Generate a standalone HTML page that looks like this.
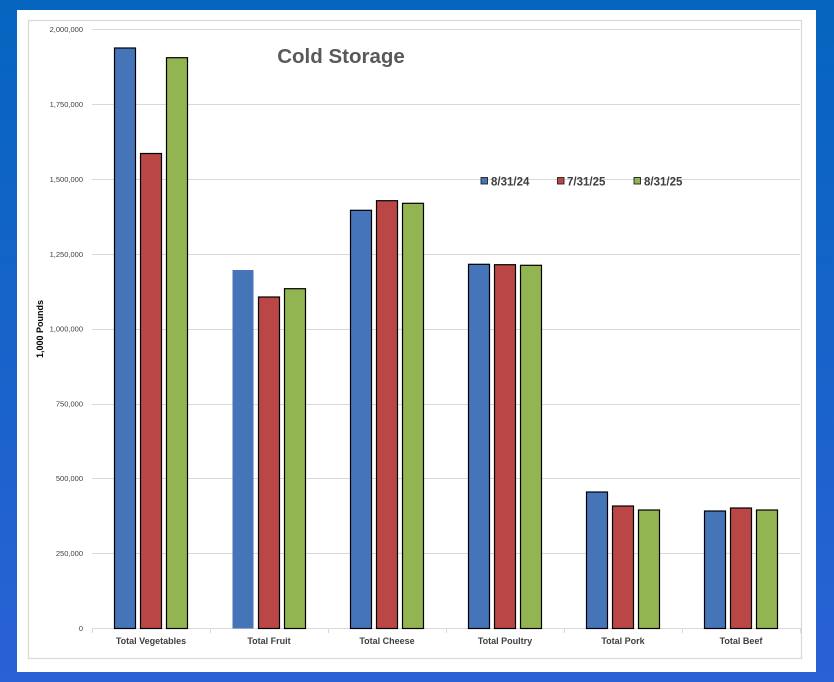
<!DOCTYPE html>
<html><head><meta charset="utf-8"><style>
html,body{margin:0;padding:0;}
body{width:834px;height:682px;overflow:hidden;background:linear-gradient(180deg,#0565bf 0%,#1763ca 50%,#2a61d5 100%);}
svg{position:absolute;left:0;top:0;}
text{font-family:"Liberation Sans",Arial,sans-serif;}
</style></head><body>
<svg width="834" height="682" viewBox="0 0 834 682" xmlns="http://www.w3.org/2000/svg">
<rect x="17" y="10" width="799" height="662" fill="#ffffff"/>
<rect x="28.5" y="20.5" width="773" height="638" fill="#ffffff" stroke="#d9d9d9" stroke-width="1.3"/>
<g stroke="#d9d9d9" stroke-width="1">
<line x1="92" y1="29.5" x2="800" y2="29.5"/>
<line x1="92" y1="104.5" x2="800" y2="104.5"/>
<line x1="92" y1="179.5" x2="800" y2="179.5"/>
<line x1="92" y1="254.5" x2="800" y2="254.5"/>
<line x1="92" y1="329.5" x2="800" y2="329.5"/>
<line x1="92" y1="404.5" x2="800" y2="404.5"/>
<line x1="92" y1="478.5" x2="800" y2="478.5"/>
<line x1="92" y1="553.5" x2="800" y2="553.5"/>
<line x1="92" y1="628.5" x2="800" y2="628.5"/>
<line x1="92.5" y1="628" x2="92.5" y2="633"/>
<line x1="210.5" y1="628" x2="210.5" y2="633"/>
<line x1="328.5" y1="628" x2="328.5" y2="633"/>
<line x1="446.5" y1="628" x2="446.5" y2="633"/>
<line x1="564.5" y1="628" x2="564.5" y2="633"/>
<line x1="682.5" y1="628" x2="682.5" y2="633"/>
<line x1="800.5" y1="628" x2="800.5" y2="633"/>
</g>
<g font-size="7.5" fill="#404040" text-anchor="end">
<text x="83" y="32">2,000,000</text>
<text x="83" y="107">1,750,000</text>
<text x="83" y="182">1,500,000</text>
<text x="83" y="257">1,250,000</text>
<text x="83" y="331.5">1,000,000</text>
<text x="83" y="406.5">750,000</text>
<text x="83" y="481">500,000</text>
<text x="83" y="556">250,000</text>
<text x="83" y="631">0</text>
</g>
<text transform="translate(43,329) rotate(-90)" font-size="9" font-weight="bold" fill="#000" text-anchor="middle">1,000 Pounds</text>
<text x="341" y="63" font-size="20.5" font-weight="bold" fill="#595959" text-anchor="middle">Cold Storage</text>
<g stroke="#000" stroke-width="1.2">
<!-- Vegetables -->
<rect x="114.5" y="48" width="21" height="580.5" fill="#4674b8"/>
<rect x="140.5" y="153.5" width="21" height="475" fill="#bb4646"/>
<rect x="166.5" y="57.7" width="21" height="570.8" fill="#93b551"/>
<!-- Fruit -->
<rect x="232.5" y="270" width="21" height="358.5" fill="#4674b8" stroke="none"/>
<rect x="258.5" y="297" width="21" height="331.5" fill="#bb4646"/>
<rect x="284.5" y="288.7" width="21" height="339.8" fill="#93b551"/>
<!-- Cheese -->
<rect x="350.5" y="210.3" width="21" height="418.2" fill="#4674b8"/>
<rect x="376.5" y="200.7" width="21" height="427.8" fill="#bb4646"/>
<rect x="402.5" y="203.3" width="21" height="425.2" fill="#93b551"/>
<!-- Poultry -->
<rect x="468.5" y="264.3" width="21" height="364.2" fill="#4674b8"/>
<rect x="494.5" y="264.7" width="21" height="363.8" fill="#bb4646"/>
<rect x="520.5" y="265.3" width="21" height="363.2" fill="#93b551"/>
<!-- Pork -->
<rect x="586.5" y="492" width="21" height="136.5" fill="#4674b8"/>
<rect x="612.5" y="506" width="21" height="122.5" fill="#bb4646"/>
<rect x="638.5" y="510" width="21" height="118.5" fill="#93b551"/>
<!-- Beef -->
<rect x="704.5" y="511" width="21" height="117.5" fill="#4674b8"/>
<rect x="730.5" y="508" width="21" height="120.5" fill="#bb4646"/>
<rect x="756.5" y="510" width="21" height="118.5" fill="#93b551"/>
</g>
<g font-size="9" font-weight="bold" fill="#404040" text-anchor="middle">
<text x="151" y="644">Total Vegetables</text>
<text x="269" y="644">Total Fruit</text>
<text x="387" y="644">Total Cheese</text>
<text x="505" y="644">Total Poultry</text>
<text x="623" y="644">Total Pork</text>
<text x="741" y="644">Total Beef</text>
</g>
<g stroke="#222" stroke-width="0.9">
<rect x="481" y="177.5" width="6.5" height="6.5" fill="#4674b8"/>
<rect x="557.5" y="177.5" width="6.5" height="6.5" fill="#bb4646"/>
<rect x="634" y="177.5" width="6.5" height="6.5" fill="#93b551"/>
</g>
<g font-size="11.5" font-weight="bold" fill="#404040">
<text x="491" y="185.5">8/31/24</text>
<text x="567" y="185.5">7/31/25</text>
<text x="644" y="185.5">8/31/25</text>
</g>
</svg>
</body></html>
